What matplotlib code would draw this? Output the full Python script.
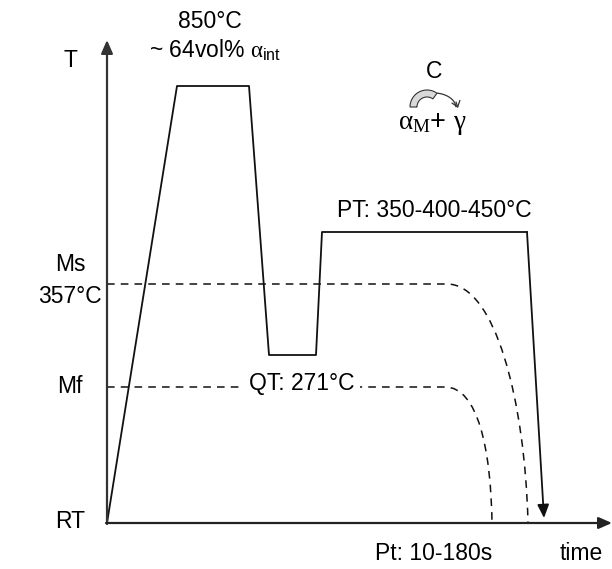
import numpy as np
import matplotlib.pyplot as plt
from matplotlib.path import Path
from matplotlib.patches import PathPatch, Polygon

plt.rcParams['font.family'] = ['Liberation Sans', 'DejaVu Sans']
plt.rcParams['mathtext.fontset'] = 'custom'
plt.rcParams['mathtext.rm'] = 'Liberation Serif'
plt.rcParams['mathtext.it'] = 'Liberation Serif'
plt.rcParams['mathtext.sf'] = 'Liberation Sans'

# schematic coordinates (pixel-like units, y grows downward)
path_t = [107, 177, 249, 269, 316, 322, 527]
path_T = [523, 86, 86, 355, 355, 232, 232]
arrow_end = (544, 518)

ms_y = 284
mf_y = 387
ms_curve = [(447, 284), (495, 284), (525, 400), (528, 523)]
mf_curve = [(445, 387), (478, 387), (491, 450), (492, 523)]

fig = plt.figure(figsize=(6.12, 5.69), dpi=100)
ax = fig.add_axes([0, 0, 1, 1])
ax.set_xlim(0, 612)
ax.set_ylim(569, 0)
ax.axis('off')

fs = 16.5
head = '-|>,head_length=0.8,head_width=0.35'

# axes with arrows
ax.annotate('', xy=(107, 40), xytext=(107, 524),
            arrowprops=dict(arrowstyle=head, color='#333333', lw=1.6,
                            shrinkA=0, shrinkB=0))
ax.annotate('', xy=(612, 523), xytext=(106, 523),
            arrowprops=dict(arrowstyle=head, color='#222222', lw=1.6,
                            shrinkA=0, shrinkB=0))

# temperature path
ax.plot(path_t, path_T, color='#111111', lw=1.3)
ax.annotate('', xy=arrow_end, xytext=(path_t[-1], path_T[-1]),
            arrowprops=dict(arrowstyle=head, color='#111111', lw=1.3,
                            shrinkA=0, shrinkB=0))

# Ms / Mf dashed lines with curves
for y, curve in [(ms_y, ms_curve), (mf_y, mf_curve)]:
    verts = [(107, y)] + curve
    codes = [Path.MOVETO, Path.LINETO, Path.CURVE4, Path.CURVE4, Path.CURVE4]
    ax.add_patch(PathPatch(Path(verts, codes), fill=False, ls=(0, (5, 4)),
                           lw=1.1, color='#111111'))

# labels
ax.text(70, 60, 'T', fontsize=fs, ha='center', va='center')
ax.text(210, 21, '850°C', fontsize=fs, ha='center', va='center')
ax.text(215, 50, r'~ 64vol% $\alpha_{\mathsf{int}}$', fontsize=fs, ha='center', va='center')
ax.text(434, 71, 'C', fontsize=fs, ha='center', va='center')
ax.text(432, 124, r'$\alpha_{\mathrm{M}}$+ $\gamma$', fontsize=fs + 3, ha='center', va='center')
ax.text(434, 210, 'PT: 350-400-450°C', fontsize=fs, ha='center', va='center')
ax.text(70, 264, 'Ms', fontsize=fs, ha='center', va='center')
ax.text(70, 296, '357°C', fontsize=fs, ha='center', va='center')
ax.text(70, 386, 'Mf', fontsize=fs, ha='center', va='center')
ax.text(302, 383, 'QT: 271°C', fontsize=fs, ha='center', va='center',
        bbox=dict(fc='white', ec='none', pad=4))
ax.text(70, 522, 'RT', fontsize=fs, ha='center', va='center')
ax.text(434, 554, 'Pt: 10-180s', fontsize=fs, ha='center', va='center')
ax.text(581, 554, 'time', fontsize=fs, ha='center', va='center')

# curved arrow icon: gray crescent plus thin arrow
cx, cy = 427, 107
th = np.linspace(np.pi, np.pi * 0.3, 30)
outer = np.c_[cx + 17 * np.cos(th), cy - 17 * np.sin(th)]
inner = np.c_[cx + 10 * np.cos(th[::-1]), cy - 10 * np.sin(th[::-1])]
ax.add_patch(Polygon(np.vstack([outer, inner]), closed=True,
                     fc='#d9d9d9', ec='#333333', lw=0.8))
th2 = np.linspace(np.pi * 0.45, 0.1, 20)
ax.plot(cx + 7 + 22 * np.cos(th2), cy + 1 - 15 * np.sin(th2), color='#333333', lw=0.9)
ax.annotate('', xy=(458, 108), xytext=(456, 102),
            arrowprops=dict(arrowstyle='->,head_length=0.4,head_width=0.3',
                            color='#333333', lw=0.9, shrinkA=0, shrinkB=0))

fig.savefig('out.png', dpi=100)
